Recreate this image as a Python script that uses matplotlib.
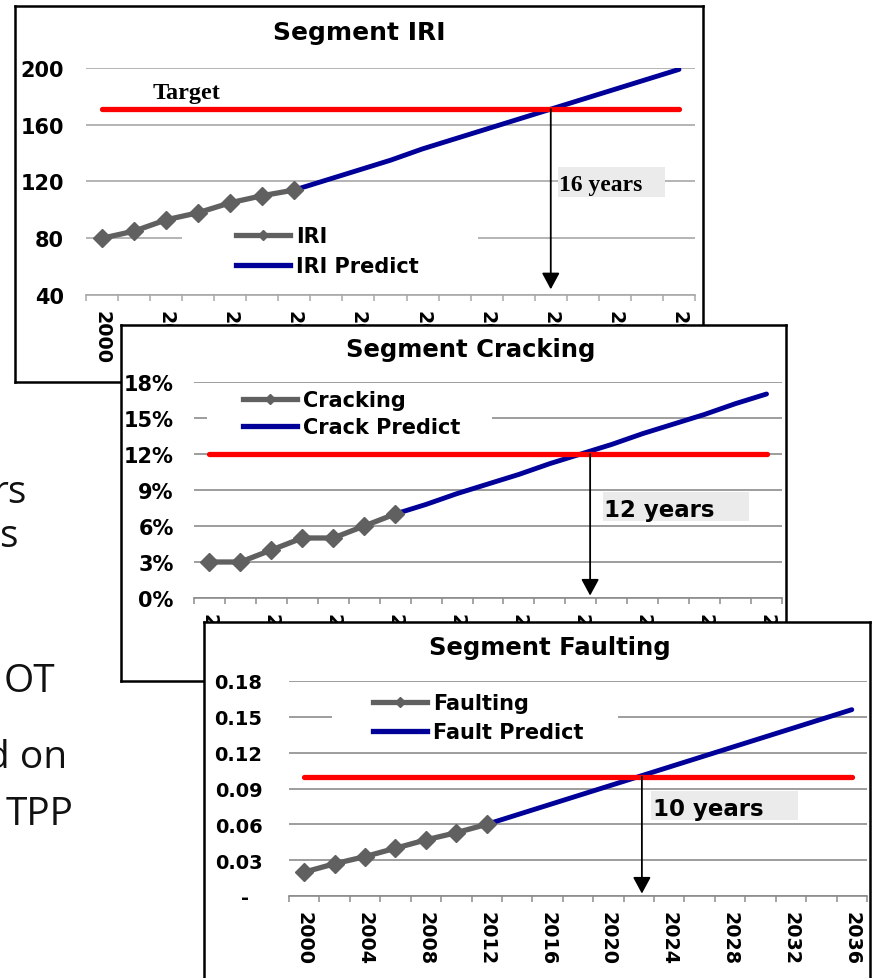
import numpy as np
import matplotlib
matplotlib.use("Agg")
import matplotlib.pyplot as plt
from matplotlib.lines import Line2D
from matplotlib.patches import Rectangle
from matplotlib.transforms import Affine2D

W, H = 875, 979

# categories: every second year, labels on every other category
years = list(range(2000, 2037, 2))
year_labels = [str(y) for y in years[::2]]

iri_obs = [80, 85, 93, 98, 105, 110, 114]
iri_pred = [114, 121, 128, 135, 143, 150, 157, 164, 171, 178, 185, 192, 199]
iri_target = 171
iri_ticks = [40, 80, 120, 160, 200]
iri_tick_labels = ["40", "80", "120", "160", "200"]

crack_obs = [3, 3, 4, 5, 5, 6, 7]  # percent
crack_pred = [7, 7.8, 8.7, 9.5, 10.3, 11.2, 12.0, 12.8, 13.7, 14.5, 15.3, 16.2, 17.0]
crack_target = 12
crack_ticks = [0, 3, 6, 9, 12, 15, 18]
crack_tick_labels = ["0%", "3%", "6%", "9%", "12%", "15%", "18%"]

fault_obs = [0.020, 0.027, 0.033, 0.040, 0.047, 0.053, 0.060]
fault_pred = [0.060, 0.068, 0.076, 0.084, 0.092, 0.100, 0.108, 0.116,
              0.124, 0.132, 0.140, 0.148, 0.156]
fault_target = 0.10
fault_ticks = [0, 0.03, 0.06, 0.09, 0.12, 0.15, 0.18]
fault_tick_labels = ["-  ", "0.03", "0.06", "0.09", "0.12", "0.15", "0.18"]

# year where the arrow drops from the target line
arrow_years = [2028, 2024.6, 2022.2]
notes = ["16 years", "12 years", "10 years"]

# fragments of the slide text behind the charts
bg_texts = ["rs", "s", "OT", "d on", "TPP"]

GRAY = "#606060"
BLUE = "#000099"
RED = "#ff0000"

fig = plt.figure(figsize=(W / 100, H / 100), dpi=100)
fig.patch.set_facecolor("white")
pix = Affine2D().scale(1 / W, -1 / H).translate(0, 1) + fig.transFigure


def px_rect(x0, y0, x1, y1):
    return [x0 / W, 1 - y1 / H, (x1 - x0) / W, (y1 - y0) / H]


for txt, xr, yb in zip(bg_texts, [27, 18, 55, 67, 73], [503, 547, 692, 768, 825]):
    fig.text(xr, yb, txt, transform=pix, ha="right", va="baseline",
             fontsize=28, family="Open Sans", color="#111111", zorder=0)


def panel(z, frame, box, title, title_xy, title_size, ylim, ticks, tick_labels,
          ylab_pad, ylab_size, grid_color):
    fr = fig.add_axes(px_rect(*frame), zorder=z)
    fr.set_facecolor("white")
    fr.set_xticks([])
    fr.set_yticks([])
    for s in fr.spines.values():
        s.set_linewidth(1.8)
        s.set_color("black")
    fr.text(*title_xy, title, transform=pix, ha="center", va="baseline",
            fontsize=title_size, fontweight="bold", family="DejaVu Sans")

    ax = fig.add_axes(px_rect(*box), zorder=z + 1)
    ax.patch.set_visible(False)
    ax.set_xlim(-0.5, len(years) - 0.5)
    ax.set_ylim(*ylim)
    ax.set_yticks(ticks, tick_labels)
    ax.set_xticks(range(0, len(years), 2), year_labels, rotation=-90)
    ax.set_xticks(np.arange(-0.5, len(years), 1), minor=True)
    for lab in ax.get_xticklabels() + ax.get_yticklabels():
        lab.set_fontweight("bold")
        lab.set_family("DejaVu Sans")
    ax.tick_params(axis="x", which="major", length=0, pad=11, labelsize=13.8)
    ax.tick_params(axis="x", which="minor", length=4, width=1.1, color=grid_color)
    ax.tick_params(axis="y", length=0, pad=ylab_pad, labelsize=ylab_size)
    for side in ["left", "top", "right"]:
        ax.spines[side].set_visible(False)
    ax.spines["bottom"].set_color(grid_color)
    ax.spines["bottom"].set_linewidth(1.2)
    ax.yaxis.grid(True, color=grid_color, lw=1.2)
    ax.set_axisbelow(True)
    return ax


def series(ax, obs, pred, target, names, leg_xy, leg_space, leg_bg, note, note_box,
           note_xy, note_font, arrow_year, arrow_bottom):
    x_all = np.arange(len(years))
    x_obs = np.arange(len(obs))
    x_pred = np.arange(len(obs) - 1, len(obs) - 1 + len(pred))
    ax.plot(x_pred, pred, color=BLUE, lw=3.5, solid_capstyle="round", zorder=3)
    ax.plot(x_all, [target] * len(years), color=RED, lw=3.8,
            solid_capstyle="round", zorder=3.5)
    ax.plot(x_obs, obs, color=GRAY, lw=3.8, marker="D", ms=9.5, zorder=4)

    # white legend background (wider than the entries, as in Excel)
    x0, y0, x1, y1 = leg_bg
    ax.add_patch(Rectangle((x0, y1), x1 - x0, y0 - y1, transform=pix,
                           facecolor="white", edgecolor="none", zorder=1, clip_on=False))
    handles = [Line2D([], [], color=GRAY, lw=3.8, marker="D", ms=5.5),
               Line2D([], [], color=BLUE, lw=3.8)]
    ax.legend(handles, names, loc="center left", bbox_to_anchor=leg_xy,
              bbox_transform=pix, frameon=False, borderpad=0, borderaxespad=0,
              handlelength=2.6, handletextpad=0.3, labelspacing=leg_space,
              prop={"family": "DejaVu Sans", "weight": "bold", "size": 15})

    x0, y0, x1, y1 = note_box
    ax.add_patch(Rectangle((x0, y1), x1 - x0, y0 - y1, transform=pix,
                           facecolor="#ebebeb", edgecolor="none", zorder=1.5, clip_on=False))
    ax.text(*note_xy, note, transform=pix, ha="left", va="baseline", zorder=5,
            fontweight="bold", **note_font)

    ax_x = (arrow_year - years[0]) / (years[1] - years[0])
    ax.annotate("", xy=(ax_x, arrow_bottom), xytext=(ax_x, target),
                arrowprops=dict(arrowstyle="-|>,head_length=0.5,head_width=0.27",
                                color="black", lw=1.3, shrinkA=0, shrinkB=0,
                                mutation_scale=20), zorder=5)


# --- Segment IRI ---
ax1 = panel(10, (15, 7, 703, 383), (86, 69, 695, 296), "Segment IRI", (359, 40), 18,
            (40, 200), iri_ticks, iri_tick_labels, 16, 15, "#a8a8a8")
series(ax1, iri_obs, iri_pred, iri_target, ["IRI", "IRI Predict"], (236, 252), 0.5,
       (182, 222, 478, 282), notes[0], (558, 168, 665, 198), (559, 191),
       {"family": "Liberation Serif", "size": 17}, arrow_years[0], 44)
ax1.text(153, 99, "Target", transform=pix, ha="left", va="baseline", fontsize=17.5,
         fontweight="bold", family="Liberation Serif", zorder=5)

# --- Segment Cracking ---
ax2 = panel(20, (121, 326, 786, 682), (194, 383, 782, 599), "Segment Cracking", (471, 357),
            17.5, (0, 18), crack_ticks, crack_tick_labels, 14.5, 15, "#8c8c8c")
series(ax2, crack_obs, crack_pred, crack_target, ["Cracking", "Crack Predict"],
       (243, 414.5), 0.33, (207, 390, 492, 445), notes[1], (603, 493, 749, 522), (604, 517),
       {"family": "DejaVu Sans", "size": 16.5}, arrow_years[1], 0.2)

# --- Segment Faulting ---
ax3 = panel(30, (204, 623, 870, 1000), (289, 682, 867, 897), "Segment Faulting", (550, 655),
            17.5, (0, 0.18), fault_ticks, fault_tick_labels, 19, 14, "#8c8c8c")
series(ax3, fault_obs, fault_pred, fault_target, ["Faulting", "Fault Predict"],
       (373, 718.5), 0.43, (332, 690, 618, 745), notes[2], (651, 792, 798, 821), (653, 816),
       {"family": "DejaVu Sans", "size": 16.5}, arrow_years[2], 0.002)

fig.savefig("out.png", dpi=100)
